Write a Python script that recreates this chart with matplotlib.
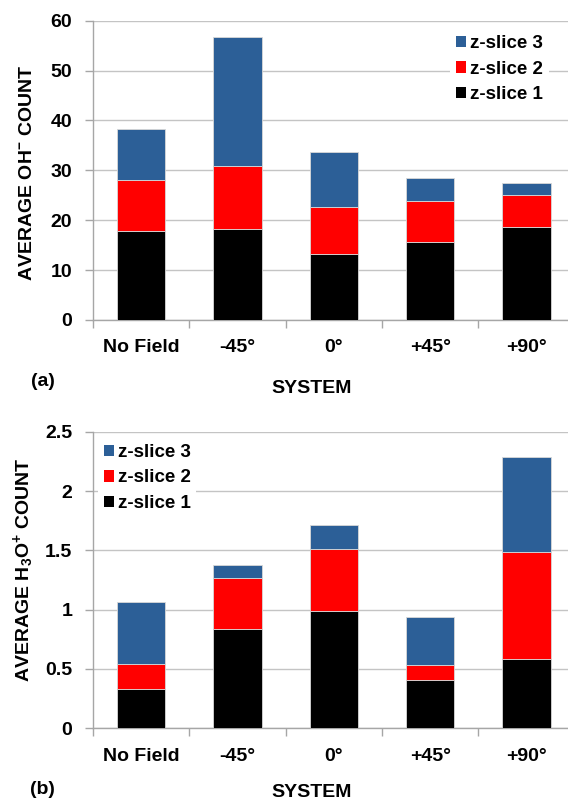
import numpy as np
import matplotlib
matplotlib.use("Agg")
import matplotlib.pyplot as plt
from matplotlib.patches import Patch

plt.rcParams['font.family'] = ['Liberation Sans', 'DejaVu Sans']
plt.rcParams['font.weight'] = 'bold'
plt.rcParams['mathtext.fontset'] = 'custom'
plt.rcParams['mathtext.rm'] = 'Liberation Sans:bold'
plt.rcParams['mathtext.bf'] = 'Liberation Sans:bold'
plt.rcParams['mathtext.it'] = 'Liberation Sans:bold'

systems = ["No Field", "-45°", "0°", "+45°", "+90°"]
slice_names = ["z-slice 1", "z-slice 2", "z-slice 3"]
slice_colors = ["#000000", "#ff0000", "#2c5f97"]

# per-slice average counts (stacked)
oh_slice1 = [17.9, 18.2, 13.3, 15.7, 18.7]
oh_slice2 = [10.1, 12.6, 9.4, 8.1, 6.3]
oh_slice3 = [10.3, 26.0, 11.0, 4.6, 2.5]

h3o_slice1 = [0.334, 0.834, 0.991, 0.407, 0.581]
h3o_slice2 = [0.208, 0.435, 0.517, 0.129, 0.902]
h3o_slice3 = [0.519, 0.109, 0.202, 0.404, 0.803]

grid_col = "#c4c4c4"
spine_col = "#a6a6a6"


def stacked(ax, slices, ymax, ystep, ylabel, tag, leg_anchor, label_y, xlab_y):
    x = np.arange(len(systems))
    bottom = np.zeros(len(systems))
    handles = []
    for vals, name, col in zip(slices, slice_names, slice_colors):
        ax.bar(x, vals, 0.5, bottom=bottom, color=col, edgecolor="#d8d8d8",
               linewidth=0.6, zorder=3)
        bottom += np.array(vals)
        handles.append(Patch(facecolor=col, edgecolor="none", label=name))

    ax.set_xlim(-0.5, len(systems) - 0.5)
    ax.set_ylim(0, ymax)
    ax.set_yticks(np.arange(0, ymax + ystep / 2, ystep))
    ax.yaxis.set_major_formatter(matplotlib.ticker.FuncFormatter(lambda v, p: "%g" % v))
    ax.grid(axis="y", color=grid_col, linewidth=1.0, zorder=0)
    ax.set_axisbelow(True)

    # boundary ticks between groups, labels at group centres
    ax.set_xticks(np.arange(-0.5, len(systems), 1.0))
    ax.set_xticklabels([])
    ax.set_xticks(x, minor=True)
    ax.set_xticklabels(systems, minor=True, fontsize=14, fontweight="bold")
    ax.tick_params(axis="x", which="major", direction="out", length=6,
                   color=spine_col, width=1)
    ax.tick_params(axis="x", which="minor", length=0, pad=14)
    ax.tick_params(axis="y", direction="out", length=6, color=spine_col,
                   width=1, labelsize=14, pad=9)
    for t in ax.get_yticklabels():
        t.set_fontweight("bold")

    for s in ["top", "right"]:
        ax.spines[s].set_visible(False)
    for s in ["left", "bottom"]:
        ax.spines[s].set_color(spine_col)
        ax.spines[s].set_linewidth(1)

    ax.set_ylabel(ylabel, fontsize=14, fontweight="bold")
    ax.yaxis.set_label_coords(-0.118, label_y)
    ax.set_xlabel("SYSTEM", fontsize=14, fontweight="bold")
    ax.xaxis.set_label_coords(0.453, xlab_y)
    ax.text(-0.104, -0.205, tag, transform=ax.transAxes, fontsize=14,
            fontweight="bold", ha="center", va="center")

    leg = ax.legend(handles=handles[::-1], loc="upper left",
                    bbox_to_anchor=leg_anchor, fontsize=13.5,
                    handlelength=0.55, handleheight=0.55, handletextpad=0.2,
                    labelspacing=0.45, borderpad=0.3, frameon=True,
                    fancybox=False, framealpha=1, edgecolor="none")
    leg.get_frame().set_linewidth(0)
    for t in leg.get_texts():
        t.set_fontweight("bold")


fig = plt.figure(figsize=(5.68, 8.02), dpi=100)
ax1 = fig.add_axes([0.1637, 0.601, 0.848, 0.3732])
ax2 = fig.add_axes([0.1637, 0.0919, 0.848, 0.3698])

stacked(ax1, [oh_slice1, oh_slice2, oh_slice3], 60, 10,
        r"AVERAGE OH$^{-}$ COUNT", "(a)", (0.7225, 1.002), 0.493, -0.2)
stacked(ax2, [h3o_slice1, h3o_slice2, h3o_slice3], 2.5, 0.5,
        r"AVERAGE H$_{3}$O$^{+}$ COUNT", "(b)", (-0.009, 1.009), 0.534, -0.188)

plt.savefig("out.png", dpi=100)
